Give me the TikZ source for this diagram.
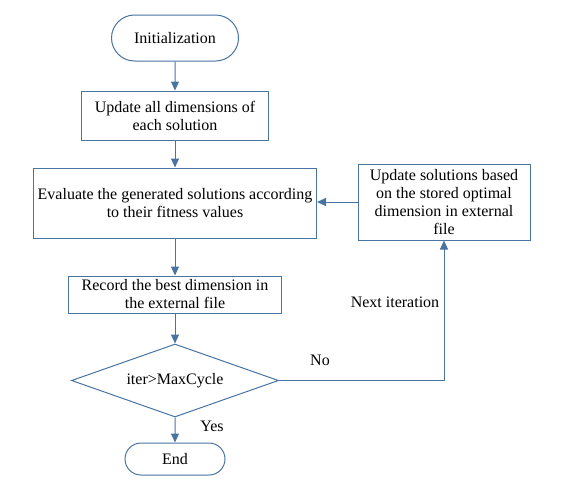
\documentclass[tikz,border=0pt]{standalone}
\usepackage{fontspec}
\setmainfont{Liberation Serif}
\usetikzlibrary{arrows.meta,positioning,shapes.misc,shapes.geometric}
\definecolor{flowblue}{RGB}{72,116,162}

\begin{document}
\begin{tikzpicture}[
    x=1pt, y=1pt,
    node distance=28pt,
    box/.style={draw=flowblue, line width=1pt, align=center, inner sep=1pt,
      font=\fontsize{16}{18}\selectfont, fill=white},
    term/.style={box, rounded rectangle},
    decision/.style={box, diamond, aspect=2.8, inner sep=0pt},
    lbl/.style={font=\fontsize{16}{18}\selectfont},
    flow/.style={draw=flowblue, line width=1pt, -{Triangle[width=8pt,length=9pt]}}
]
\useasboundingbox (0,0) rectangle (583,-480);

% ---- main column ----
\node[term, minimum width=129pt, minimum height=46pt] (init) at (175,-38) {Initialization};
\node[box, below=29pt of init, minimum width=187pt, minimum height=49pt] (update)
  {Update all dimensions of\\each solution};
\node[box, below=27pt of update, minimum width=283pt, minimum height=70pt] (evaluate)
  {Evaluate the generated solutions according\\to their fitness values};
\node[box, below=37pt of evaluate, minimum width=213pt, minimum height=37pt] (record)
  {Record the best dimension in\\the external file};
\node[decision, below=30pt of record, minimum width=207pt, minimum height=73pt] (check)
  {iter>MaxCycle};
\node[term, below=25pt of check, minimum width=102pt, minimum height=32pt] (finish) {End};

% ---- feedback lane ----
\node[box, minimum width=172pt, minimum height=76pt] (refine) at (444,-202)
  {Update solutions based\\on the stored optimal\\dimension in external\\file};
\coordinate (corner) at (refine.south |- check.east);

% labels
\node[lbl] (nolbl) at (320,-360) {No};
\node[lbl] (yeslbl) at (212,-426) {Yes};
\node[lbl] (nextlbl) at (395,-302) {Next iteration};

% arrows
\draw[flow] (init) -- (update);
\draw[flow] (update) -- (evaluate);
\draw[flow] (evaluate) -- (record);
\draw[flow] (record) -- (check);
\draw[flow] (check) -- (finish);
\draw[flow] (check.east) -- (corner) -- (refine.south);
\draw[flow] (refine.west) -- (refine.west -| evaluate.east);

\end{tikzpicture}
\end{document}
